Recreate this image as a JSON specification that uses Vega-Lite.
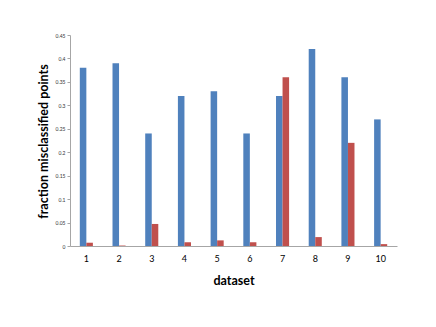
{
  "$schema": "https://vega.github.io/schema/vega-lite/v6.json",
  "width": 327,
  "height": 211,
  "autosize": {"type": "none"},
  "padding": {"left": 70, "top": 35, "right": 39, "bottom": 81},
  "background": "white",
  "config": {"view": {"stroke": null}, "font": "Lato"},
  "data": {
    "values": [
      {"dataset": "1", "series": "A", "value": 0.38},
      {"dataset": "1", "series": "B", "value": 0.007},
      {"dataset": "2", "series": "A", "value": 0.39},
      {"dataset": "2", "series": "B", "value": 0.001},
      {"dataset": "3", "series": "A", "value": 0.24},
      {"dataset": "3", "series": "B", "value": 0.047},
      {"dataset": "4", "series": "A", "value": 0.32},
      {"dataset": "4", "series": "B", "value": 0.008},
      {"dataset": "5", "series": "A", "value": 0.33},
      {"dataset": "5", "series": "B", "value": 0.012},
      {"dataset": "6", "series": "A", "value": 0.24},
      {"dataset": "6", "series": "B", "value": 0.008},
      {"dataset": "7", "series": "A", "value": 0.32},
      {"dataset": "7", "series": "B", "value": 0.36},
      {"dataset": "8", "series": "A", "value": 0.42},
      {"dataset": "8", "series": "B", "value": 0.019},
      {"dataset": "9", "series": "A", "value": 0.36},
      {"dataset": "9", "series": "B", "value": 0.22},
      {"dataset": "10", "series": "A", "value": 0.27},
      {"dataset": "10", "series": "B", "value": 0.004}
    ]
  },
  "mark": {"type": "bar"},
  "encoding": {
    "x": {
      "field": "dataset",
      "type": "ordinal",
      "sort": null,
      "scale": {"paddingInner": 0.6, "paddingOuter": 0.3},
      "axis": {
        "title": "dataset",
        "titleFont": "Lato",
        "titleFontWeight": "bold",
        "titleFontSize": 12.5,
        "titleColor": "black",
        "titleY": 34,
        "titleBaseline": "middle",
        "labelAngle": 0,
        "labelFont": "Lato",
        "labelFontSize": 9,
        "labelColor": "black",
        "labelPadding": 8,
        "ticks": false,
        "domainColor": "#a6a6a6",
        "domainWidth": 1
      }
    },
    "xOffset": {"field": "series", "type": "nominal"},
    "y": {
      "field": "value",
      "type": "quantitative",
      "scale": {"domain": [0, 0.45], "nice": false},
      "axis": {
        "title": "fraction misclassified points",
        "titleFont": "Lato",
        "titleFontWeight": "bold",
        "titleFontSize": 12.5,
        "titleColor": "black",
        "titleX": -27,
        "titleY": 106,
        "titleAngle": -90,
        "titleAlign": "center",
        "titleBaseline": "middle",
        "values": [0, 0.05, 0.1, 0.15, 0.2, 0.25, 0.3, 0.35, 0.4, 0.45],
        "format": ".2~f",
        "labelFont": "Lato",
        "labelFontSize": 5,
        "labelColor": "#333333",
        "labelPadding": 2,
        "tickSize": 3,
        "tickColor": "#a6a6a6",
        "domainColor": "#a6a6a6",
        "grid": false
      }
    },
    "color": {
      "field": "series",
      "type": "nominal",
      "scale": {"domain": ["A", "B"], "range": ["#4F81BD", "#C0504D"]},
      "legend": null
    }
  }
}
